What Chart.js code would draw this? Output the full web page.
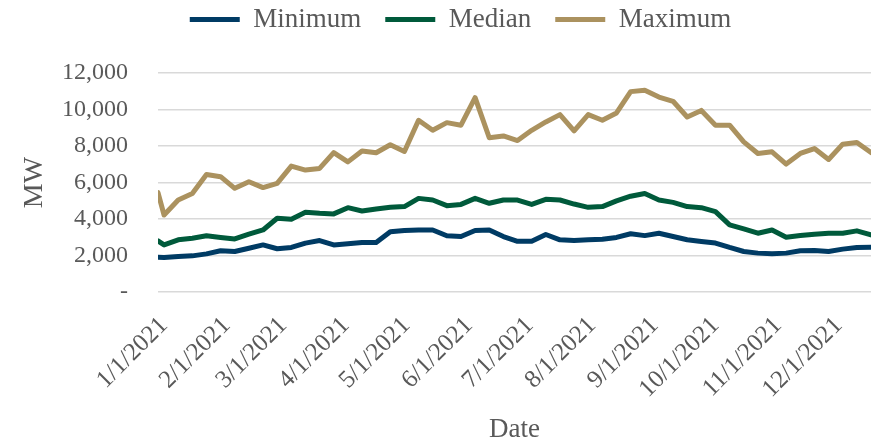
<!DOCTYPE html>
<html>
<head>
<meta charset="utf-8">
<script src="https://cdn.jsdelivr.net/npm/chart.js@4/dist/chart.umd.min.js"></script>
<style>
  html, body { margin: 0; padding: 0; background: #fff; }
  #wrap { width: 871px; height: 440px; }
</style>
</head>
<body>
<div id="wrap"><canvas id="chart" width="871" height="440"></canvas></div>
<script>
// weekly dates (first point is 1/1, then Mondays)
const dates = [
  '1/1/2021', '1/4/2021', '1/11/2021', '1/18/2021', '1/25/2021',
  '2/1/2021', '2/8/2021', '2/15/2021', '2/22/2021',
  '3/1/2021', '3/8/2021', '3/15/2021', '3/22/2021', '3/29/2021',
  '4/5/2021', '4/12/2021', '4/19/2021', '4/26/2021',
  '5/3/2021', '5/10/2021', '5/17/2021', '5/24/2021', '5/31/2021',
  '6/7/2021', '6/14/2021', '6/21/2021', '6/28/2021',
  '7/5/2021', '7/12/2021', '7/19/2021', '7/26/2021',
  '8/2/2021', '8/9/2021', '8/16/2021', '8/23/2021', '8/30/2021',
  '9/6/2021', '9/13/2021', '9/20/2021', '9/27/2021',
  '10/4/2021', '10/11/2021', '10/18/2021', '10/25/2021',
  '11/1/2021', '11/8/2021', '11/15/2021', '11/22/2021', '11/29/2021',
  '12/6/2021', '12/13/2021', '12/20/2021'
];

const minimum = [
  1910, 1890, 1950, 1980, 2090,
  2260, 2220, 2400, 2580,
  2370, 2440, 2680, 2820, 2580,
  2640, 2710, 2710, 3300,
  3370, 3400, 3400, 3080, 3040,
  3370, 3400, 3040, 2780,
  2780, 3150, 2860, 2820,
  2860, 2890, 2990, 3190, 3090,
  3220, 3040, 2860, 2770,
  2680, 2440, 2220, 2130,
  2090, 2130, 2260, 2280, 2220,
  2350, 2440, 2450
];

const median = [
  2800, 2580, 2860, 2950, 3080,
  2990, 2910, 3170, 3400,
  4040, 3990, 4370, 4310, 4280,
  4620, 4440, 4550, 4640,
  4680, 5130, 5040, 4730, 4800,
  5130, 4860, 5040, 5040,
  4800, 5080, 5040, 4820,
  4640, 4680, 4990, 5250, 5400,
  5040, 4910, 4680, 4620,
  4400, 3680, 3460, 3220,
  3400, 3000, 3090, 3170, 3220,
  3220, 3350, 3130
];

const maximum = [
  5450, 4220, 5040, 5400, 6440,
  6320, 5680, 6040, 5720,
  5950, 6900, 6680, 6770, 7640,
  7130, 7730, 7630, 8070,
  7700, 9410, 8860, 9280, 9140,
  10650, 8450, 8550, 8300,
  8860, 9320, 9720, 8830,
  9720, 9410, 9810, 10980, 11050,
  10680, 10450, 9590, 9950,
  9140, 9140, 8230, 7590,
  7680, 7010, 7590, 7860, 7260,
  8100, 8190, 7640
];

const tickLabels = [
  '1/1/2021', '2/1/2021', '3/1/2021', '4/1/2021', '5/1/2021', '6/1/2021',
  '7/1/2021', '8/1/2021', '9/1/2021', '10/1/2021', '11/1/2021', '12/1/2021'
];

const FONT = "'Liberation Serif', 'Times New Roman', serif";
const TEXT = '#595959';

// days since 1/1/2021
function dayOf(s) {
  const [m, d, y] = s.split('/').map(Number);
  return Math.round((Date.UTC(y, m - 1, d) - Date.UTC(2021, 0, 1)) / 86400000);
}

const xDays = dates.map(dayOf);
const tickDays = tickLabels.map(dayOf);
const toPoints = (vals) => vals.map((v, i) => ({ x: xDays[i], y: v }));

const lineStyle = (color) => ({
  borderColor: color,
  backgroundColor: color,
  borderWidth: 5,
  borderCapStyle: 'round',
  borderJoinStyle: 'round',
  pointRadius: 0,
  pointStyle: 'line',
  tension: 0,
  fill: false
});

// legend takes the top 73px; its row is drawn higher and a bit right of centre
const legendPlace = {
  id: 'legendPlace',
  beforeInit(chart) {
    const lg = chart.legend;
    const fit = lg.fit;
    lg.fit = function () {
      fit.call(this);
      this.height = 73;
    };
  },
  afterLayout(chart) {
    const lg = chart.legend;
    lg.top -= 18;
    lg.bottom -= 18;
    lg.left += 25;
    lg.right += 25;
  }
};

const ctx = document.getElementById('chart').getContext('2d');
new Chart(ctx, {
  type: 'line',
  data: {
    datasets: [
      Object.assign({ label: 'Minimum', data: toPoints(minimum) }, lineStyle('#003b64')),
      Object.assign({ label: 'Median', data: toPoints(median) }, lineStyle('#005a3b')),
      Object.assign({ label: 'Maximum', data: toPoints(maximum) }, lineStyle('#ab925f'))
    ]
  },
  plugins: [legendPlace],
  options: {
    responsive: false,
    animation: false,
    layout: { padding: 0 },
    plugins: {
      legend: {
        position: 'top',
        labels: {
          usePointStyle: true,
          pointStyleWidth: 50,
          boxHeight: 5,
          padding: 24,
          color: TEXT,
          font: { family: FONT, size: 27 }
        }
      },
      tooltip: { enabled: false }
    },
    scales: {
      x: {
        type: 'linear',
        min: 0,
        max: xDays[xDays.length - 1],
        grid: { display: false },
        border: { display: false },
        afterBuildTicks: (scale) => {
          scale.ticks = tickDays.map(v => ({ value: v }));
        },
        afterFit: (scale) => {
          scale.height = 148;
          scale.paddingLeft = 0;
          scale.paddingRight = 0;
        },
        ticks: {
          autoSkip: false,
          maxRotation: 45,
          minRotation: 45,
          padding: 11,
          labelOffset: 6,
          color: TEXT,
          font: { family: FONT, size: 25 },
          callback: (value) => {
            const i = tickDays.indexOf(value);
            return i >= 0 ? tickLabels[i] : '';
          }
        },
        title: {
          display: true,
          text: 'Date',
          color: TEXT,
          font: { family: FONT, size: 27, lineHeight: 1 },
          padding: { top: 0, bottom: -3 }
        }
      },
      y: {
        min: 0,
        max: 12000,
        grid: { color: '#d9d9d9', lineWidth: 1.5, drawTicks: false },
        border: { display: false },
        afterFit: (scale) => { scale.width = 158; },
        ticks: {
          stepSize: 2000,
          padding: 30,
          color: TEXT,
          font: { family: FONT, size: 24 },
          callback: (v) => v === 0 ? '-' : v.toLocaleString('en-US')
        },
        title: {
          display: true,
          text: 'MW',
          color: TEXT,
          font: { family: FONT, size: 28 },
          padding: { top: 18, bottom: 0 }
        }
      }
    }
  }
});
</script>
</body>
</html>
